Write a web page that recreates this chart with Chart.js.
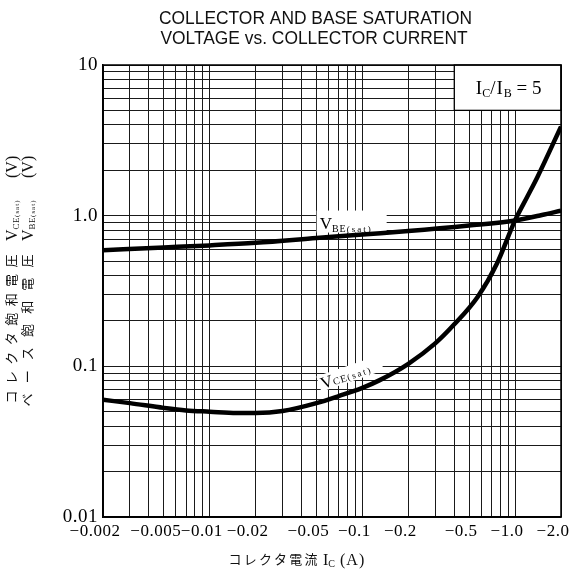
<!DOCTYPE html>
<html>
<head>
<meta charset="utf-8">
<script src="https://cdn.jsdelivr.net/npm/chart.js@4.4.1/dist/chart.umd.min.js"></script>
<style>
  html, body { margin: 0; padding: 0; background: #fff; }
</style>
</head>
<body>
<canvas id="myChart" width="579" height="576"></canvas>
<script>
// collector current |Ic| (A)
const vbeCurrent = [0.002, 0.005, 0.01, 0.02, 0.05, 0.1, 0.2, 0.5, 1.0, 1.5, 2.0];
const vbeVolts   = [0.59, 0.615, 0.635, 0.66, 0.71, 0.75, 0.79, 0.86, 0.93, 1.01, 1.08];

const vceCurrent = [0.002, 0.003, 0.005, 0.007, 0.01, 0.015, 0.02, 0.03, 0.05, 0.07, 0.1, 0.13, 0.2, 0.3, 0.4, 0.57, 0.76, 1.0, 1.2, 1.4, 2.0];
const vceVolts   = [0.060, 0.057, 0.053, 0.051, 0.050, 0.049, 0.049, 0.0505, 0.057, 0.0635, 0.072, 0.081, 0.104, 0.142, 0.19, 0.29, 0.48, 0.93, 1.33, 1.8, 3.9];

// grid lines and the few labelled ticks
const xGrid = [0.002, 0.003, 0.004, 0.005, 0.006, 0.007, 0.008, 0.009,
               0.01, 0.02, 0.03, 0.04, 0.05, 0.06, 0.07, 0.08, 0.09,
               0.1, 0.2, 0.3, 0.4, 0.5, 0.6, 0.7, 0.8, 0.9, 1, 2];
const xLabelValues = [0.002, 0.005, 0.01, 0.02, 0.05, 0.1, 0.2, 0.5, 1, 2];
const xTickLabels  = ['−0.002', '−0.005', '−0.01', '−0.02', '−0.05', '−0.1', '−0.2', '−0.5', '−1.0', '−2.0'];

const yGrid = [0.01, 0.02, 0.03, 0.04, 0.05, 0.06, 0.07, 0.08, 0.09,
               0.1, 0.2, 0.3, 0.4, 0.5, 0.6, 0.7, 0.8, 0.9,
               1, 2, 3, 4, 5, 6, 7, 8, 9, 10];
const yLabelValues = [0.01, 0.1, 1, 10];
const yTickLabels  = ['0.01', '0.1', '1.0', '10'];

const SERIF = '"Liberation Serif", "DejaVu Serif", serif';
const JP = '"Noto Sans CJK JP", "Noto Sans CJK SC", sans-serif';

function pickLabel(v, values, labels) {
  for (let i = 0; i < values.length; i++) {
    if (Math.abs(v - values[i]) / values[i] < 1e-6) return labels[i];
  }
  return '';
}

// text runs (main text + subscripts) drawn left to right
function runsWidth(ctx, runs) {
  let w = 0;
  runs.forEach(r => {
    ctx.font = r.font;
    ctx.letterSpacing = (r.sp || 0) + 'px';
    w += ctx.measureText(r.t).width;
  });
  ctx.letterSpacing = '0px';
  return w;
}
function drawRuns(ctx, runs, x, y) {
  let cx = x;
  runs.forEach(r => {
    ctx.font = r.font;
    ctx.letterSpacing = (r.sp || 0) + 'px';
    ctx.fillText(r.t, cx, y + (r.dy || 0));
    cx += ctx.measureText(r.t).width;
  });
  ctx.letterSpacing = '0px';
  return cx - x;
}
// characters spread evenly between two centre points
function spreadChars(ctx, text, x0, y0, x1, y1, rot) {
  const chars = Array.from(text);
  const n = chars.length;
  chars.forEach((ch, i) => {
    const t = n > 1 ? i / (n - 1) : 0;
    ctx.save();
    ctx.translate(x0 + (x1 - x0) * t, y0 + (y1 - y0) * t);
    if (rot) ctx.rotate(rot);
    ctx.fillText(ch, 0, 0);
    ctx.restore();
  });
}

const decorations = {
  id: 'decorations',
  beforeDraw(chart) {
    // slightly spaced digits on the tick labels
    chart.ctx.letterSpacing = '0.5px';
  },
  beforeDatasetsDraw(chart) {
    const ctx = chart.ctx;
    const xs = chart.scales.x, ys = chart.scales.y;
    ctx.save();
    ctx.letterSpacing = '0px';
    ctx.fillStyle = '#000';
    ctx.textBaseline = 'alphabetic';
    ctx.textAlign = 'left';

    // ratio box in the upper right corner
    const bx0 = xs.getPixelForValue(0.4), bx1 = xs.getPixelForValue(2);
    const by0 = ys.getPixelForValue(10), by1 = ys.getPixelForValue(5);
    ctx.fillStyle = '#fff';
    ctx.fillRect(bx0, by0, bx1 - bx0, by1 - by0);
    ctx.strokeStyle = '#000';
    ctx.lineWidth = 1.3;
    ctx.strokeRect(bx0, by0, bx1 - bx0, by1 - by0);
    ctx.fillStyle = '#000';
    const ratio = [
      { t: 'I', font: '19px ' + SERIF },
      { t: 'C', font: '12px ' + SERIF, dy: 3 },
      { t: '/I', font: '19px ' + SERIF, sp: 1 },
      { t: 'B', font: '12px ' + SERIF, dy: 3 },
      { t: ' = 5', font: '19px ' + SERIF }
    ];
    const rw = runsWidth(ctx, ratio);
    drawRuns(ctx, ratio, (bx0 + bx1) / 2 - rw / 2 + 1, (by0 + by1) / 2 + 6);

    // V_BE(sat) label
    const lx = xs.getPixelForValue(0.0525), ly = ys.getPixelForValue(0.9);
    ctx.fillStyle = '#fff';
    ctx.fillRect(lx - 3, ly - 12, 70, 22);
    ctx.fillStyle = '#000';
    drawRuns(ctx, [
      { t: 'V', font: '17px ' + SERIF },
      { t: 'BE', font: '10px ' + SERIF, dy: 3, sp: 1 },
      { t: '(sat)', font: '9px ' + SERIF, dy: 3, sp: 2 }
    ], lx, ly + 6);

    // V_CE(sat) label, tilted along the curve
    const cx = xs.getPixelForValue(0.055), cy = ys.getPixelForValue(0.0705);
    ctx.save();
    ctx.translate(cx, cy);
    ctx.rotate(-0.33);
    ctx.fillStyle = '#fff';
    ctx.fillRect(-2, -14, 66, 16);
    ctx.fillStyle = '#000';
    drawRuns(ctx, [
      { t: 'V', font: '17px ' + SERIF },
      { t: 'CE', font: '10px ' + SERIF, dy: 0, sp: 1 },
      { t: '(sat)', font: '9px ' + SERIF, dy: 0, sp: 2 }
    ], 0, 0);
    ctx.restore();
    ctx.restore();
  },
  afterDraw(chart) {
    const ctx = chart.ctx;
    const a = chart.chartArea;
    ctx.letterSpacing = '0px';
    ctx.save();
    // frame
    ctx.strokeStyle = '#000';
    ctx.lineWidth = 1.5;
    ctx.strokeRect(a.left, a.top, a.right - a.left, a.bottom - a.top);

    ctx.fillStyle = '#111';
    ctx.textAlign = 'center';
    ctx.textBaseline = 'middle';

    // title, narrow sans
    ctx.font = '18px "Liberation Sans", Arial, sans-serif';
    const sx = 313 / ctx.measureText('COLLECTOR AND BASE SATURATION').width;
    ctx.save();
    ctx.translate(315.5, 19);
    ctx.scale(sx, 1);
    ctx.fillText('COLLECTOR AND BASE SATURATION', 0, 0);
    ctx.restore();
    ctx.save();
    ctx.translate(314, 39);
    ctx.scale(sx, 1);
    ctx.fillText('VOLTAGE vs. COLLECTOR CURRENT', 0, 0);
    ctx.restore();

    // x axis title
    ctx.font = '13px ' + JP;
    spreadChars(ctx, 'コレクタ電流', 235, 559, 311, 559, 0);
    ctx.textAlign = 'left';
    ctx.textBaseline = 'alphabetic';
    drawRuns(ctx, [
      { t: 'I', font: '16px ' + SERIF },
      { t: 'C', font: '10px ' + SERIF, dy: 2 },
      { t: ' (A)', font: '16px ' + SERIF, sp: 1 }
    ], 323, 565);

    // y axis titles, two rotated columns
    ctx.textAlign = 'center';
    ctx.textBaseline = 'middle';
    ctx.font = '13px ' + JP;
    spreadChars(ctx, 'コレクタ飽和電圧', 11, 397, 11, 261, -Math.PI / 2);
    spreadChars(ctx, 'ベース飽和電圧', 27, 400, 27, 261, -Math.PI / 2);

    ctx.textAlign = 'left';
    ctx.textBaseline = 'alphabetic';
    [[5, 'CE'], [21, 'BE']].forEach(([colX, sub]) => {
      ctx.save();
      ctx.translate(colX + 12, 241);
      ctx.rotate(-Math.PI / 2);
      drawRuns(ctx, [
        { t: 'V', font: '16px ' + SERIF },
        { t: sub, font: '9px ' + SERIF, dy: 2, sp: 0.5 },
        { t: '(sat)', font: '7px ' + SERIF, dy: 2, sp: 1 }
      ], 0, 0);
      ctx.font = '16px ' + SERIF;
      ctx.fillText('(V)', 63, 0);
      ctx.restore();
    });
    ctx.restore();
  }
};

new Chart('myChart', {
  type: 'line',
  data: {
    datasets: [{
      data: vbeCurrent.map((c, i) => ({ x: c, y: vbeVolts[i] })),
      borderColor: '#000',
      borderWidth: 4.5,
      pointRadius: 0,
      cubicInterpolationMode: 'monotone',
      fill: false
    }, {
      data: vceCurrent.map((c, i) => ({ x: c, y: vceVolts[i] })),
      borderColor: '#000',
      borderWidth: 4.5,
      pointRadius: 0,
      cubicInterpolationMode: 'monotone',
      fill: false
    }]
  },
  options: {
    responsive: false,
    animation: false,
    devicePixelRatio: 1,
    layout: { padding: { top: 65, right: 18, bottom: 19, left: 0 } },
    plugins: { legend: { display: false }, tooltip: { enabled: false } },
    scales: {
      x: {
        type: 'logarithmic',
        min: 0.002,
        max: 2,
        afterBuildTicks: s => { s.ticks = xGrid.map(v => ({ value: v })); },
        afterFit: s => { s.height = 40; s.paddingLeft = 0; s.paddingRight = 0; },
        ticks: {
          autoSkip: false, maxRotation: 0, minRotation: 0, padding: 4, labelOffset: -8,
          color: '#000', font: { family: SERIF, size: 17 },
          callback: v => pickLabel(v, xLabelValues, xTickLabels)
        },
        grid: { color: '#1a1a1a', lineWidth: 1, drawTicks: false },
        border: { color: '#000', width: 1.5 }
      },
      y: {
        type: 'logarithmic',
        min: 0.01,
        max: 10,
        afterBuildTicks: s => { s.ticks = yGrid.map(v => ({ value: v })); },
        afterFit: s => { s.width = 103; s.paddingTop = 0; s.paddingBottom = 0; },
        ticks: {
          autoSkip: false, padding: 5,
          color: '#000', font: { family: SERIF, size: 19 },
          callback: v => pickLabel(v, yLabelValues, yTickLabels)
        },
        grid: { color: '#1a1a1a', lineWidth: 1, drawTicks: false },
        border: { color: '#000', width: 1.5 }
      }
    }
  },
  plugins: [decorations]
});
</script>
</body>
</html>
